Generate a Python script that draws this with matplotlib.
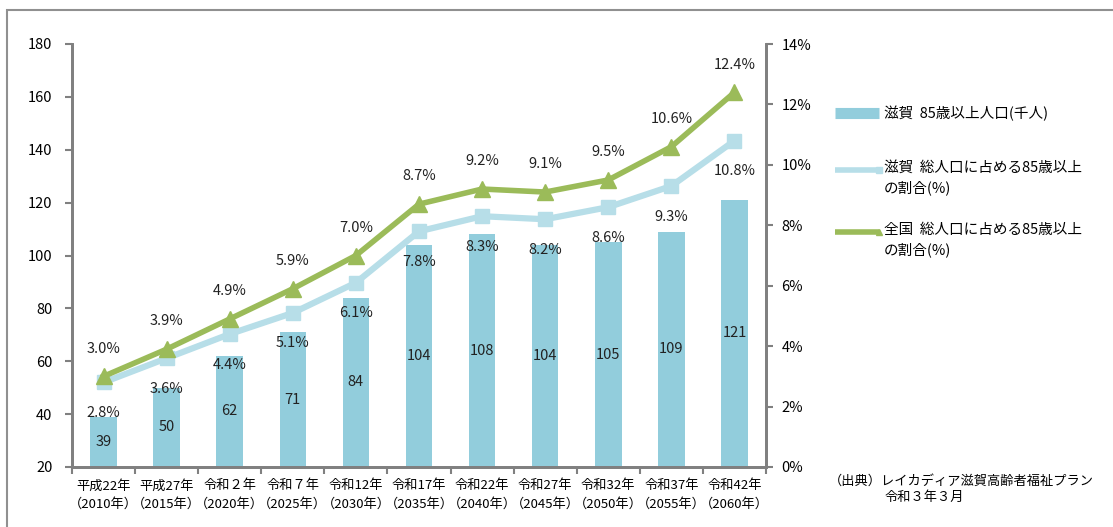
import numpy as np
import matplotlib
matplotlib.use('Agg')
import matplotlib.pyplot as plt
from matplotlib.lines import Line2D
from matplotlib.patches import Rectangle

plt.rcParams['font.family'] = ['Noto Sans CJK JP', 'DejaVu Sans']

###### data ######
categories = ['平成22年\n（2010年）', '平成27年\n（2015年）', '令和２年\n（2020年）',
              '令和７年\n（2025年）', '令和12年\n（2030年）', '令和17年\n（2035年）',
              '令和22年\n（2040年）', '令和27年\n（2045年）', '令和32年\n（2050年）',
              '令和37年\n（2055年）', '令和42年\n（2060年）']
shiga_pop = [39, 50, 62, 71, 84, 104, 108, 104, 105, 109, 121]
shiga_pct = [2.8, 3.6, 4.4, 5.1, 6.1, 7.8, 8.3, 8.2, 8.6, 9.3, 10.8]
japan_pct = [3.0, 3.9, 4.9, 5.9, 7.0, 8.7, 9.2, 9.1, 9.5, 10.6, 12.4]

legend_labels = ['滋賀  85歳以上人口(千人)',
                 '滋賀  総人口に占める85歳以上\nの割合(%)',
                 '全国  総人口に占める85歳以上\nの割合(%)']

bar_c = '#92CDDC'
light_c = '#B7DEE8'
green_c = '#9BBB59'
spine_c = '#808080'

W, H = 1113, 527

###### plot ######
fig = plt.figure(figsize=(W / 100, H / 100), dpi=100)
ax = fig.add_axes([72 / W, 1 - 467 / H, (766 - 72) / W, (467 - 44) / H])
ax2 = ax.twinx()

x = np.arange(len(categories))
ax.bar(x, shiga_pop, width=0.42, color=bar_c, zorder=2)
for xi, v in zip(x, shiga_pop):
    ax.text(xi, (20 + v) / 2, str(v), ha='center', va='center', fontsize=10.5, color='#222222')

ax.set_xlim(-0.5, len(categories) - 0.5)
ax.set_ylim(20, 180)
ax.set_yticks(np.arange(20, 181, 20))
ax.set_xticks(x)
ax.set_xticklabels(categories, fontsize=9.5, linespacing=1.5)
ax.tick_params(axis='x', which='major', length=0, pad=9)
ax.set_xticks(np.arange(-0.5, len(categories), 1), minor=True)
ax.tick_params(axis='x', which='minor', length=5, width=1.5, color=spine_c, direction='out')
ax.tick_params(axis='y', length=5, width=1.5, color=spine_c, labelsize=10.5, pad=9)

ax2.plot(x, shiga_pct, color=light_c, lw=4.5, marker='s', markersize=10, zorder=3)
ax2.plot(x, japan_pct, color=green_c, lw=4, marker='^', markersize=11, zorder=4)
for xi, v in zip(x, shiga_pct):
    ax2.annotate('%.1f%%' % v, (xi, v), xytext=(0, -22), textcoords='offset points',
                 ha='center', va='center', fontsize=10.5, color='#222222')
for xi, v in zip(x, japan_pct):
    ax2.annotate('%.1f%%' % v, (xi, v), xytext=(0, 20), textcoords='offset points',
                 ha='center', va='center', fontsize=10.5, color='#222222')
ax2.set_ylim(0, 14)
ax2.set_yticks(np.arange(0, 15, 2))
ax2.set_yticklabels(['%d%%' % t for t in range(0, 15, 2)])
ax2.tick_params(axis='y', length=5, width=1.5, color=spine_c, labelsize=10.5, pad=6)

for a in (ax, ax2):
    a.spines['top'].set_visible(False)
    for s in ('left', 'right', 'bottom'):
        a.spines[s].set_color(spine_c)
        a.spines[s].set_linewidth(2)

# legend, drawn by hand to keep the uneven spacing of the original
leg_y = [113, 170, 232]
handles = [dict(color=bar_c, lw=8),
           dict(color=light_c, lw=4, marker='s', markersize=5),
           dict(color=green_c, lw=4, marker='^', markersize=5)]
for yy, lab, hs in zip(leg_y, legend_labels, handles):
    fig.add_artist(Line2D([835 / W, 879 / W], [1 - yy / H] * 2, transform=fig.transFigure,
                          markevery=[1], solid_capstyle='butt', **hs))
    if '\n' in lab:
        fig.text(884 / W, 1 - (yy - 9) / H, lab, fontsize=10.5, va='top', linespacing=1.45)
    else:
        fig.text(884 / W, 1 - yy / H, lab, fontsize=10.5, va='center')

fig.text(829 / W, 1 - 481 / H, '（出典）レイカディア滋賀高齢者福祉プラン', fontsize=9.5, va='center')
fig.text(885 / W, 1 - 497 / H, '令和３年３月', fontsize=9.5, va='center')

# outer frame (runs off the right and bottom edges)
fig.patches.append(Rectangle((7 / W, -0.05), 1.1, 1 - 10 / H + 0.05,
                             transform=fig.transFigure, fill=False,
                             edgecolor='#909090', lw=1.5))

plt.savefig('out.png', dpi=100, facecolor='w')
